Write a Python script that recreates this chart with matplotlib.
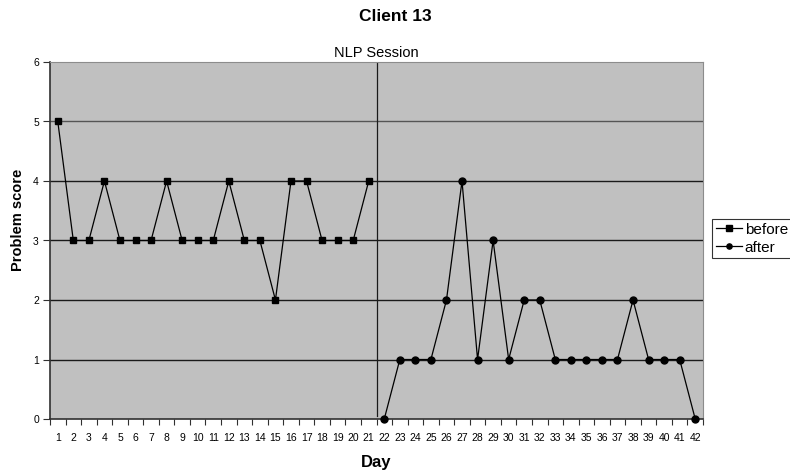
"""Client 13 problem score before/after the NLP session."""

import matplotlib

matplotlib.use("Agg")

import matplotlib.pyplot as plt
import numpy as np

days = np.arange(1, 43)
before_days = days[:21]
after_days = days[21:]
before_scores = [5, 3, 3, 4, 3, 3, 3, 4, 3, 3, 3, 4, 3, 3, 2, 4, 4, 3, 3, 3, 4]
after_scores = [0, 1, 1, 1, 2, 4, 1, 3, 1, 2, 2, 1, 1, 1, 1, 1, 2, 1, 1, 1, 0]
session_day = 21.5

plt.rcParams["font.family"] = ["Liberation Sans", "DejaVu Sans"]

W, H = 790, 473
fig = plt.figure(figsize=(W / 100, H / 100), dpi=100)
ax = fig.add_axes([50 / W, 1 - 419 / H, 653 / W, 357 / H])
ax.set_facecolor("#c0c0c0")

for y in range(1, 6):
    ax.axhline(y, color="#1a1a1a" if y != 5 else "#555555", linewidth=1.0, zorder=1)

ax.plot(before_days, before_scores, color="black", linewidth=0.9,
        marker="s", markersize=5, label="before", zorder=3)
ax.plot(after_days, after_scores, color="black", linewidth=0.9,
        marker="o", markersize=5, label="after", zorder=3, clip_on=False)
ax.plot([session_day, session_day], [0.05, 6.0], color="#1a1a1a", linewidth=0.9, zorder=2)
ax.text(session_day, 6.04, "NLP Session", ha="center", va="bottom", fontsize=10.5)

ax.set_xlim(0.5, 42.5)
ax.set_ylim(0, 6)
ax.set_xticks(np.arange(0.5, 43, 1))
ax.set_xticklabels([])
ax.set_xticks(days, minor=True)
ax.set_xticklabels([str(d) for d in days], minor=True, fontsize=7.5)
ax.tick_params(axis="x", which="minor", length=0, pad=10)
ax.tick_params(axis="x", which="major", length=4, direction="out", color="#303030")
ax.set_yticks(range(0, 7))
ax.tick_params(axis="y", labelsize=7.5, length=5, pad=3, color="#303030")

for side in ("top", "right"):
    ax.spines[side].set_color("#8c8c8c")
for side in ("left", "bottom"):
    ax.spines[side].set_color("#303030")
    ax.spines[side].set_linewidth(1.2)

ax.set_xlabel("Day", fontsize=12, fontweight="bold", labelpad=9)
fig.text(18 / W, 1 - 220 / H, "Problem score", rotation=90, ha="center", va="center",
         fontsize=10.5, fontweight="bold")
fig.suptitle("Client 13", x=0.5, y=1 - 9 / H, va="top", fontsize=12.5, fontweight="bold")

leg = fig.legend(loc="upper left", bbox_to_anchor=(712 / W, 1 - 219 / H),
                 fontsize=11, frameon=True, fancybox=False, edgecolor="black",
                 handlelength=1.7, handletextpad=0.2, borderpad=0.25,
                 labelspacing=0.25, borderaxespad=0, markerscale=0.75)
leg.get_frame().set_linewidth(0.8)

fig.savefig("out.png", dpi=100)
